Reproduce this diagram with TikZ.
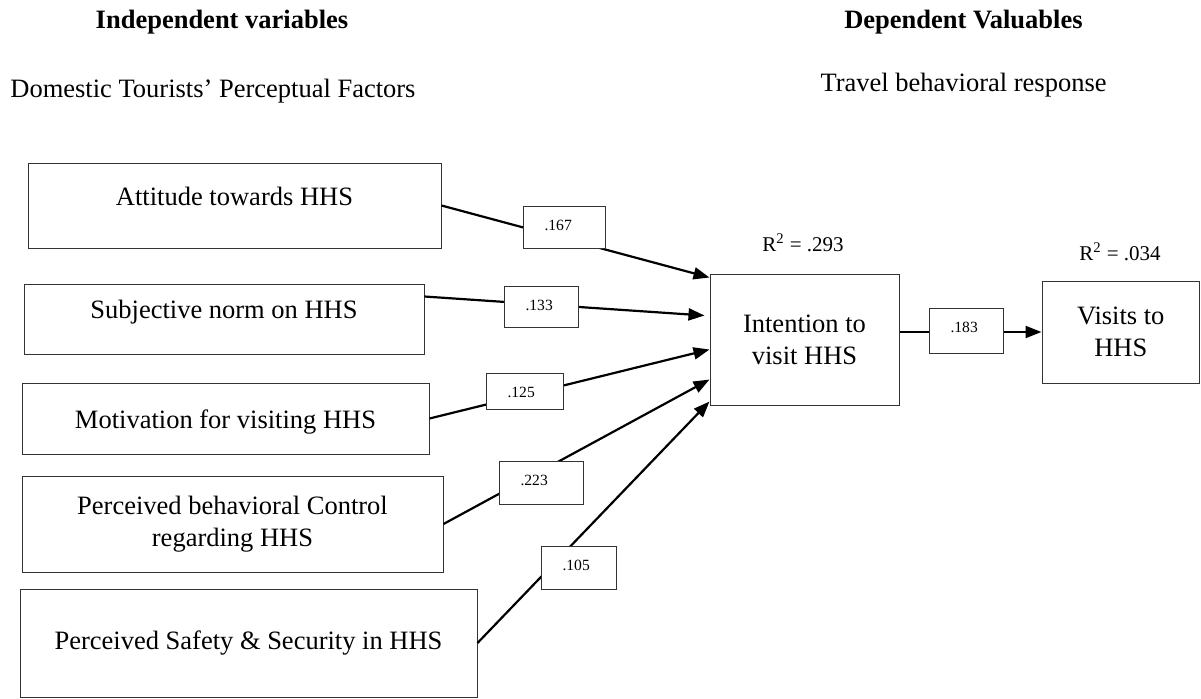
\documentclass[tikz,border=0pt]{standalone}
\usepackage{fontspec}
\setmainfont{Liberation Serif}
\usetikzlibrary{arrows.meta}
\def\boxfont{\fontsize{13.25}{15.9}\selectfont}
\tikzset{
  var/.style={draw=black!80, line width=0.5pt, inner sep=0pt, align=center, font=\boxfont},
  coef/.style={draw=black!80, line width=0.5pt, fill=white, anchor=north west,
    inner xsep=10.5pt, inner ysep=0pt, align=left, text height=12pt,
    font=\fontsize{7.8}{9}\selectfont},
  link/.style={line width=1.1pt, -{Triangle[length=8pt,width=6pt]}}
}
\begin{document}
\begin{tikzpicture}[x=0.5pt, y=-0.5pt]
\useasboundingbox (0,0) rectangle (1201,698);
\def\rsq{\fontsize{10.5}{12}\selectfont}
  % headings
  \node[anchor=base, inner sep=0pt, font=\boxfont\bfseries] (indep) at (222,28) {Independent variables};
  \node[anchor=base east, inner sep=0pt, font=\boxfont\bfseries] (dep) at (1083,28) {Dependent Valuables};
  \node[anchor=base west, inner sep=0pt, font=\boxfont] (dom) at (10,97) {Domestic Tourists’ Perceptual Factors};
  \node[anchor=base east, inner sep=0pt, font=\boxfont] (trv) at (1107,91) {Travel behavioral response};
  % factors
  \node[var, minimum width=206.5pt, minimum height=42.5pt] (att) at (234.5,205.5)
    {\raisebox{4.75pt}[\height][\depth]{Attitude towards HHS}};
  \node[var, minimum width=200pt, minimum height=35pt] (sub) at (224,319)
    {\raisebox{3.5pt}[\height][\depth]{Subjective norm on HHS}};
  \node[var, minimum width=203.5pt, minimum height=35.5pt] (mot) at (225.5,418.5)
    {\raisebox{-2pt}[\height][\depth]{Motivation for visiting HHS}};
  \node[var, minimum width=210.5pt, minimum height=48pt] (pbc) at (232.5,524)
    {Perceived behavioral Control\\regarding HHS};
  \node[var, minimum width=228.5pt, minimum height=54pt] (pss) at (248.5,643)
    {Perceived Safety \& Security in HHS};
  % outcomes
  \node[var, minimum width=94.5pt, minimum height=65.5pt] (itv) at (804.5,339.5) {Intention to\\visit HHS};
  \node[var, minimum width=78.75pt, minimum height=51pt] (vis) at (1120.75,332) {Visits to\\HHS};
  \node[anchor=base, font=\rsq] (r1) at (803,251) {R\textsuperscript{2} = .293};
  \node[anchor=base, font=\rsq] (r2) at (1120,260) {R\textsuperscript{2} = .034};
  % paths
  \draw[link] (att.east) -- ([yshift=-2pt]itv.north west);
  \draw[link] ([yshift=-6.5pt]sub.north east) -- ([xshift=-2.5pt,yshift=-21pt]itv.north west);
  \draw[link] (mot.east) -- ([yshift=-38pt]itv.north west);
  \draw[link] (pbc.east) -- ([yshift=-53pt]itv.north west);
  \draw[link] (pss.east) -- ([yshift=-64pt]itv.north west);
  \draw[link] (vis.west -| itv.east) -- (vis.west);
  % coefficients
  \node[coef, text width=20pt, text depth=9pt] (c1) at (523,206) {.167};
  \node[coef, text width=16pt, text depth=8.5pt] (c2) at (504,286) {.133};
  \node[coef, text width=17.5pt, text depth=6pt] (c3) at (486,373) {.125};
  \node[coef, text width=21pt, text depth=9.5pt] (c4) at (499,461) {.223};
  \node[coef, text width=16.5pt, text depth=9.5pt] (c5) at (541,546) {.105};
  \node[coef, text width=16pt, text depth=10.5pt] (c6) at (929,308) {.183};
\end{tikzpicture}
\end{document}
